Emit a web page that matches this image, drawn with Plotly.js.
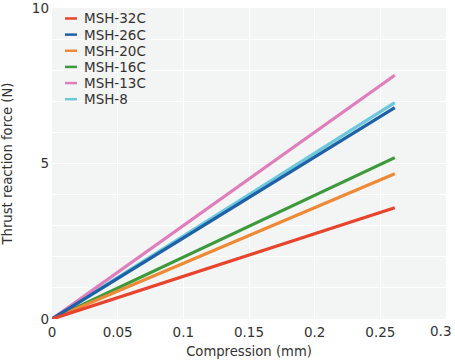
<!DOCTYPE html>
<html><head><meta charset="utf-8">
<script src="https://cdn.plot.ly/plotly-3.0.1.min.js"></script>
<style>html,body{margin:0;padding:0;background:#fff}#chart{width:455px;height:362px}</style>
</head><body><div id="chart"></div>
<script>
const seriesNames = ["MSH-32C","MSH-26C","MSH-20C","MSH-16C","MSH-13C","MSH-8"];
const seriesColors = ["#e8432b","#1d62a8","#ee8a35","#3c9a3c","#e07dbb","#6dc8dc"];
const compression = [0, 0.261];
const force_MSH32C = [0, 3.58];
const force_MSH26C = [0, 6.80];
const force_MSH20C = [0, 4.67];
const force_MSH16C = [0, 5.19];
const force_MSH13C = [0, 7.84];
const force_MSH8 = [0, 6.96];
const seriesValues = [force_MSH32C, force_MSH26C, force_MSH20C, force_MSH16C, force_MSH13C, force_MSH8];
const xTicks = [0,0.05,0.1,0.15,0.2,0.25,0.3];
const xTickText = ["0","0.05","0.1","0.15","0.2","0.25","0.3"];
const yTicks = [0,5,10];

const FONT = "DejaVu Sans, sans-serif";
const W = 455, H = 362;
const M = {l: 52, r: 8.5, t: 7.5, b: 42.5};
const PW = W - M.l - M.r, PH = H - M.t - M.b;

const traces = [];
for (let i = seriesNames.length - 1; i >= 0; i--) {
  traces.push({
    x: compression, y: seriesValues[i], name: seriesNames[i],
    type: "scatter", mode: "lines", showlegend: false,
    line: {color: seriesColors[i], width: 3.2}
  });
}

// compact legend built from the series arrays (layout only)
const legTop = 18, legStep = 16.2, sx0 = 65, sx1 = 77, tx = 82;
const shapes = [], annotations = [];
seriesNames.forEach((n, i) => {
  const py = legTop + i * legStep;
  const yp = (H - M.b - py) / PH;
  shapes.push({type: "line", xref: "paper", yref: "paper",
    x0: (sx0 - M.l) / PW, x1: (sx1 - M.l) / PW, y0: yp, y1: yp,
    line: {color: seriesColors[i], width: 2.5}});
  annotations.push({xref: "paper", yref: "paper", x: (tx - M.l) / PW, y: yp,
    xanchor: "left", yanchor: "middle", showarrow: false, text: n,
    font: {family: FONT, size: 13.5, color: "#333"}});
});
// last x tick label, kept inside the page edge as in the reference
const lastIdx = xTicks.length - 1;
annotations.push({xref: "x", yref: "paper", x: xTicks[lastIdx], y: 0,
  xanchor: "right", yanchor: "top", xshift: 7, yshift: -2, showarrow: false,
  text: xTickText[lastIdx], font: {family: FONT, size: 13.5, color: "#333"}});
const shownXText = xTickText.map((t, i) => i === lastIdx ? "" : t);

const layout = {
  width: W, height: H,
  margin: M,
  paper_bgcolor: "#ffffff", plot_bgcolor: "#f3f4f4",
  font: {family: FONT, size: 13.5, color: "#333"},
  showlegend: false,
  shapes: shapes, annotations: annotations,
  xaxis: {range: [0, 0.3], tickvals: xTicks, ticktext: shownXText, showgrid: true, gridcolor: "#ffffff", gridwidth: 1,
          zeroline: false, showline: false, ticks: "", ticklabelstandoff: 3, ticklabeloverflow: "allow",
          automargin: false,
          title: {text: "Compression (mm)", font: {size: 13.2}, standoff: 8}},
  yaxis: {range: [0, 10], tickvals: yTicks, showgrid: true, gridcolor: "#ffffff", gridwidth: 1,
          minor: {dtick: 1, showgrid: true, gridcolor: "#ffffff", gridwidth: 1},
          zeroline: false, showline: false, ticks: "", ticklabelstandoff: 2, ticklabeloverflow: "allow",
          automargin: false,
          title: {text: "Thrust reaction force (N)", font: {size: 13.2}, standoff: 16}}
};
Plotly.newPlot("chart", traces, layout, {displayModeBar: false, staticPlot: true});
</script></body></html>
